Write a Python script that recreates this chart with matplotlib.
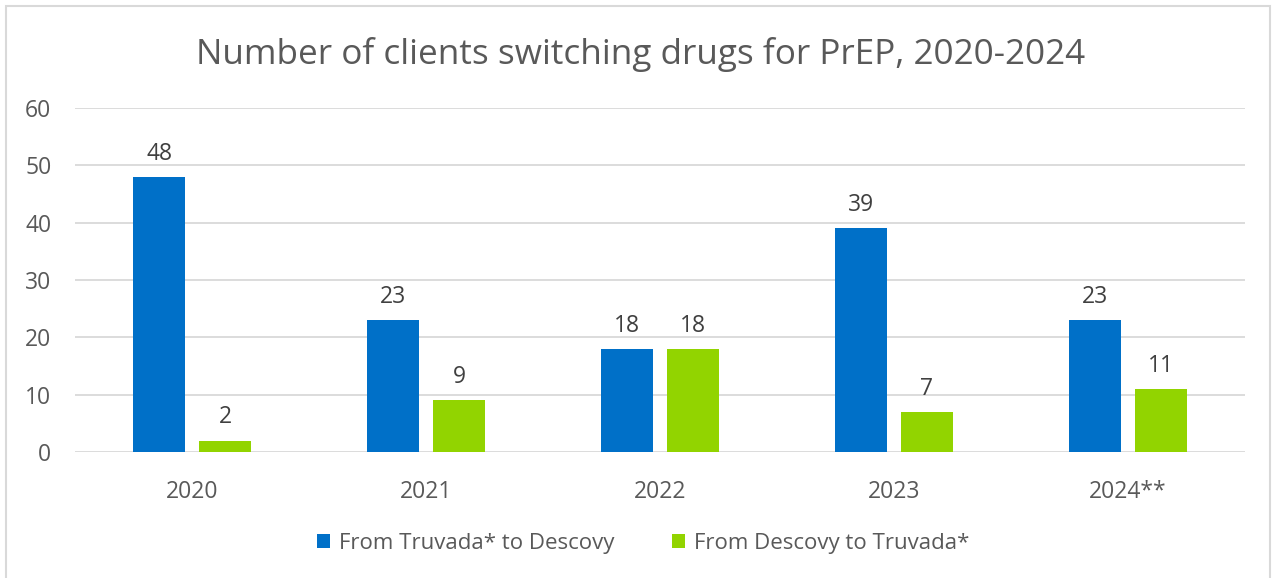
import matplotlib.pyplot as plt
import numpy as np
from matplotlib.patches import Rectangle

years = ["2020", "2021", "2022", "2023", "2024**"]
truvada_to_descovy = [48, 23, 18, 39, 23]
descovy_to_truvada = [2, 9, 18, 7, 11]

blue = "#0070C8"
green = "#92D400"
grey_text = "#595959"

plt.rcParams["font.family"] = ["Open Sans", "DejaVu Sans"]

fig = plt.figure(figsize=(12.76, 5.78), dpi=100)
ax = fig.add_axes([0.0588, 0.218, 0.9169, 0.595])

x = np.arange(len(years))
w = 0.222
off = 0.141
b1 = ax.bar(x - off, truvada_to_descovy, w, color=blue, label="From Truvada* to Descovy", zorder=3)
b2 = ax.bar(x + off, descovy_to_truvada, w, color=green, label="From Descovy to Truvada*", zorder=3)

for bars in (b1, b2):
    ax.bar_label(bars, padding=8, fontsize=16.5, color="#404040")

ax.set_xlim(-0.5, len(years) - 0.5)
ax.set_ylim(0, 60)
ax.set_yticks(range(0, 61, 10))
ax.set_xticks(x)
ax.set_xticklabels(years)
ax.yaxis.grid(True, color="#D9D9D9", lw=1.3, zorder=0)
ax.tick_params(axis="both", length=0, labelsize=16.5, colors=grey_text)
ax.tick_params(axis="x", pad=20)
ax.tick_params(axis="y", pad=17)
for s in ax.spines.values():
    s.set_visible(False)

fig.text(0.502, 0.905, "Number of clients switching drugs for PrEP, 2020-2024",
         ha="center", va="center", fontsize=25.3, color=grey_text)

fig.legend(handles=[b1, b2], loc="center", bbox_to_anchor=(0.504, 0.06), ncol=2,
           frameon=False, fontsize=16, labelcolor=grey_text, handlelength=0.6,
           handleheight=0.6, handletextpad=0.4, columnspacing=2.6)

fig.patches.append(Rectangle((6 / 1276, -0.01), 1264 / 1276, 1 - 6 / 578 + 0.01,
                             transform=fig.transFigure, fill=False,
                             edgecolor="#D9D9D9", lw=1.5))

fig.savefig("out.png", dpi=100)
